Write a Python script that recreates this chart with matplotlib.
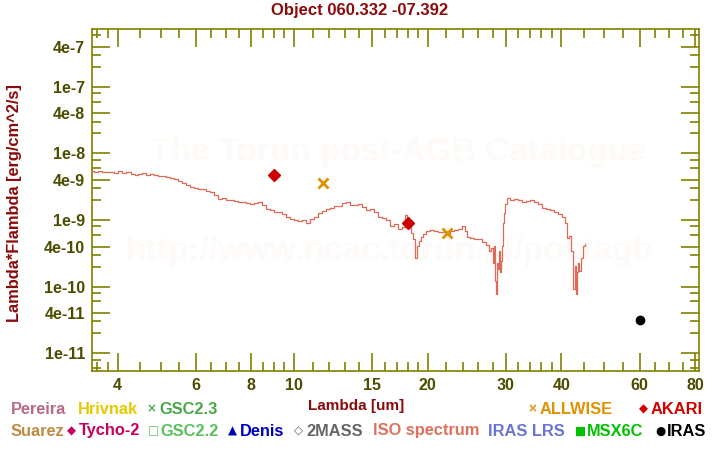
import matplotlib
matplotlib.use("Agg")
import matplotlib.pyplot as plt
from matplotlib.ticker import FixedLocator, FixedFormatter, NullFormatter

plt.rcParams['font.family'] = ['Liberation Sans', 'DejaVu Sans']
plt.rcParams['font.weight'] = 'bold'

# ISO spectrum (wavelength in um, lambda*F_lambda in erg/cm^2/s)
iso_wave = [3.51, 3.58, 3.66, 3.73, 3.81, 3.89, 3.97, 4.06, 4.14, 4.23,
            4.32, 4.41, 4.50, 4.59, 4.69, 4.79, 4.89, 4.99, 5.10, 5.20,
            5.31, 5.42, 5.54, 5.65, 5.77, 5.89, 6.02, 6.14, 6.27, 6.40,
            6.54, 6.67, 6.81, 6.96, 7.10, 7.25, 7.40, 7.56, 7.72, 7.88,
            8.04, 8.21, 8.38, 8.56, 8.74, 8.92, 9.11, 9.30, 9.49, 9.69,
            9.90, 10.10, 10.32, 10.53, 10.75, 10.98, 11.21, 11.44, 11.69, 11.93,
            12.18, 12.44, 12.70, 12.96, 13.23, 13.51, 13.79, 14.08, 14.38, 14.68,
            14.99, 15.30, 15.62, 15.95, 16.28, 16.62, 16.97, 17.33, 17.69, 17.87,
            18.06, 18.25, 18.44, 18.63, 18.83, 19.02, 19.22, 19.43, 19.63, 20.04,
            20.46, 20.89, 21.33, 21.77, 22.23, 22.70, 23.17, 23.66, 24.15, 24.40,
            24.66, 25.18, 25.70, 26.24, 26.79, 27.35, 27.64, 27.92, 28.07, 28.21,
            28.36, 28.51, 28.66, 28.81, 28.96, 29.11, 29.26, 29.41, 29.57, 29.72,
            30.03, 30.34, 30.97, 31.62, 32.28, 32.96, 33.65, 34.36, 35.08, 35.82,
            36.56, 37.33, 38.11, 38.91, 39.73, 40.56, 40.98, 41.41, 41.84, 42.28,
            42.71, 42.95, 43.16, 43.40, 43.62, 44.07, 44.53, 45.00, 45.22]
iso_flux = [5.42e-9, 5.33e-9, 5.42e-9, 5.33e-9, 5.23e-9, 5.33e-9, 5.14e-9, 5.36e-9, 5.14e-9, 5.23e-9,
            4.97e-9, 4.80e-9, 4.88e-9, 5.06e-9, 4.80e-9, 4.88e-9, 4.72e-9, 4.64e-9, 4.56e-9, 4.40e-9,
            4.25e-9, 4.18e-9, 3.90e-9, 3.64e-9, 3.40e-9, 3.17e-9, 3.06e-9, 2.90e-9, 2.96e-9, 2.71e-9,
            2.62e-9, 2.40e-9, 2.09e-9, 2.16e-9, 2.02e-9, 1.99e-9, 1.95e-9, 1.85e-9, 1.88e-9, 1.79e-9,
            1.76e-9, 1.82e-9, 1.85e-9, 1.70e-9, 1.48e-9, 1.43e-9, 1.33e-9, 1.31e-9, 1.24e-9, 1.12e-9,
            1.03e-9, 1.01e-9, 9.6e-10, 1.01e-9, 9.1e-10, 1.05e-9, 1.12e-9, 1.29e-9, 1.38e-9, 1.45e-9,
            1.50e-9, 1.61e-9, 1.64e-9, 1.79e-9, 1.88e-9, 1.70e-9, 1.67e-9, 1.76e-9, 1.58e-9, 1.43e-9,
            1.48e-9, 1.33e-9, 1.12e-9, 1.08e-9, 1.01e-9, 8.2e-10, 8.8e-10, 7.4e-10, 7.9e-10, 1.20e-9,
            8.5e-10, 9.1e-10, 6.4e-10, 5.2e-10, 2.7e-10, 4.1e-10, 4.9e-10, 5.6e-10, 6.2e-10, 6.9e-10,
            7.0e-10, 6.9e-10, 6.7e-10, 6.6e-10, 6.2e-10, 6.8e-10, 7.0e-10, 7.4e-10, 8.1e-10, 6.9e-10,
            5.6e-10, 5.4e-10, 5.1e-10, 5.1e-10, 4.7e-10, 4.25e-10, 3.45e-10, 3.83e-10, 2.28e-10, 4.1e-10,
            1.22e-10, 7.8e-11, 2.28e-10, 1.85e-10, 3.45e-10, 1.67e-10, 2.44e-10, 4.1e-10, 9.1e-10, 1.29e-9,
            1.76e-9, 2.16e-9, 2.02e-9, 2.09e-9, 1.99e-9, 1.88e-9, 1.95e-9, 2.02e-9, 1.88e-9, 1.76e-9,
            1.50e-9, 1.48e-9, 1.43e-9, 1.33e-9, 1.24e-9, 1.12e-9, 9.1e-10, 5.4e-10, 5.8e-10, 3.45e-10,
            9.3e-11, 2.06e-10, 7.8e-11, 1.67e-10, 2.28e-10, 1.73e-10, 2.7e-10, 4.1e-10, 4.4e-10]

# photometry
akari_wave = [9.0, 18.0]
akari_flux = [4.7e-9, 9.0e-10]
allwise_wave = [11.6, 22.1]
allwise_flux = [3.6e-9, 6.4e-10]
iras_wave = [60.0]
iras_flux = [3.2e-11]

# axis ticks
xmajor = [4, 6, 8, 10, 15, 20, 30, 40, 60, 80]
xminor = [3.6, 3.8, 4.5, 5, 5.5, 6.5, 7, 7.5, 8.5, 9, 9.5, 11, 12, 13, 14,
          16, 17, 18, 19, 22, 24, 26, 28, 32, 34, 36, 38, 45, 50, 55, 65, 70, 75]
ymajor = [1e-11, 4e-11, 1e-10, 4e-10, 1e-9, 4e-9, 1e-8, 4e-8, 1e-7, 4e-7]
ylabels = ['1e-11', '4e-11', '1e-10', '4e-10', '1e-9', '4e-9', '1e-8', '4e-8', '1e-7', '4e-7']
yminor = [6e-12, 8e-12, 2e-11, 3e-11, 6e-11, 8e-11, 2e-10, 3e-10, 6e-10, 8e-10,
          2e-9, 3e-9, 6e-9, 8e-9, 2e-8, 3e-8, 6e-8, 8e-8, 2e-7, 3e-7, 6e-7]

# legend labels shown under the plot
row1 = [('', 'Pereira', '#b56a86'), ('', 'Hrivnak', '#e8c800'), ('\u00d7', 'GSC2.3', '#4aa84a'),
        ('\u00d7', 'ALLWISE', '#e09000'), ('\u25c6', 'AKARI', '#d00000')]
row2 = [('', 'Suarez', '#c08a44'), ('\u25c6', 'Tycho-2', '#c8005e'), ('\u25a1', 'GSC2.2', '#5cc05c'),
        ('\u25b2', 'Denis', '#0000c0'), ('\u25c7', '2MASS', '#666666'), ('', 'ISO spectrum', '#e07060'),
        ('', 'IRAS LRS', '#6a74d8'), ('\u25a0', 'MSX6C', '#00c000'), ('\u25cf', 'IRAS', '#000000')]
row1_x = [11, 78, 147, 528, 639]
row2_x = [11, 67, 148, 228, 294, 373, 488, 575, 655]

olive = '#808000'
ticklab = '#4d4d00'
darkred = '#8b0a0a'

fig = plt.figure(figsize=(7.2, 4.5), dpi=100)
ax = fig.add_axes([92 / 720, 1 - 371 / 450, 607 / 720, 342 / 450])

# watermark
ax.text(0.505, 0.64, 'The Torun post-AGB Catalogue', transform=ax.transAxes, ha='center', va='center',
        fontsize=24, color='#fdfaf7', zorder=0)
ax.text(0.49, 0.35, 'http://www.ncac.torun.pl/postagb', transform=ax.transAxes, ha='center', va='center',
        fontsize=24, color='#fdfaf7', zorder=0)

ax.plot(iso_wave, iso_flux, color='#e06a58', lw=0.9, drawstyle='steps-mid', zorder=2)
ax.plot(akari_wave, akari_flux, 'D', color='#cc0000', ms=6, zorder=3)
ax.plot(allwise_wave, allwise_flux, 'x', color='#e09000', ms=7, mew=2, zorder=3)
ax.plot(iras_wave, iras_flux, 'o', color='black', ms=6, zorder=3)

ax.set_xscale('log')
ax.set_yscale('log')
ax.set_xlim(3.5, 81.7)
ax.set_ylim(5.4e-12, 7.4e-7)

ax.xaxis.set_major_locator(FixedLocator(xmajor))
ax.xaxis.set_major_formatter(FixedFormatter([str(v) for v in xmajor]))
ax.xaxis.set_minor_locator(FixedLocator(xminor))
ax.xaxis.set_minor_formatter(NullFormatter())
ax.yaxis.set_major_locator(FixedLocator(ymajor))
ax.yaxis.set_major_formatter(FixedFormatter(ylabels))
ax.yaxis.set_minor_locator(FixedLocator(yminor))
ax.yaxis.set_minor_formatter(NullFormatter())

ax.tick_params(which='both', direction='in', top=True, right=True, color=olive, width=1.2)
ax.tick_params(which='major', length=13, labelsize=11.5, labelcolor=ticklab, pad=5)
ax.tick_params(which='minor', length=6.5)
for lab in ax.get_xticklabels() + ax.get_yticklabels():
    lab.set_fontweight('bold')
for sp in ax.spines.values():
    sp.set_color(olive)
    sp.set_linewidth(1.2)

fig.text(0.5, 1 - 11 / 450, 'Object 060.332 -07.392', ha='center', va='center',
         fontsize=12, color=darkred, fontweight='bold')
fig.text(0.495, 1 - 406 / 450, 'Lambda [um]', ha='center', va='center',
         fontsize=11, color=darkred, fontweight='bold')
fig.text(15 / 720, 1 - 203 / 450, 'Lambda*Flambda [erg/cm^2/s]', ha='center', va='center',
         rotation=90, fontsize=11.8, color=darkred, fontweight='bold')


def draw_row(items, xs, y):
    for (sym, name, col), x in zip(items, xs):
        if sym:
            fig.text(x / 720, 1 - y / 450, sym, ha='left', va='center', fontsize=8.5,
                     color=col, family=['DejaVu Sans'])
            fig.text((x + 12) / 720, 1 - y / 450, name, ha='left', va='center', fontsize=11.8,
                     color=col, fontweight='bold')
        else:
            fig.text(x / 720, 1 - y / 450, name, ha='left', va='center', fontsize=11.8,
                     color=col, fontweight='bold')


draw_row(row1, row1_x, 409)
draw_row(row2, row2_x, 431)

fig.savefig('out.png', dpi=100)
